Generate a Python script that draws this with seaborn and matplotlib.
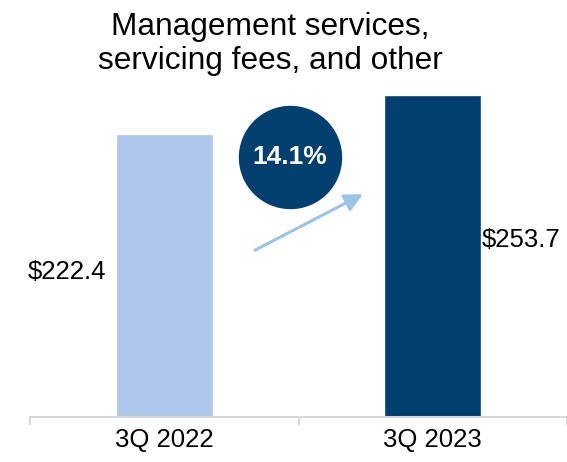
import matplotlib
matplotlib.use("Agg")
import matplotlib.pyplot as plt
import seaborn as sns
import pandas as pd

# data
quarters = ["3Q 2022", "3Q 2023"]
values = [222.4, 253.7]
value_labels = ["$222.4", "$253.7"]
growth_label = "14.1%"
title = "Management services,\nservicing fees, and other"

bar_colors = ["#adc6e9", "#003f6e"]
arrow_color = "#9dc3e6"
axis_grey = "#d9d9d9"

sns.set_theme(style="white")
plt.rcParams['font.family'] = ['Liberation Sans', 'DejaVu Sans']
plt.rcParams['text.color'] = 'black'

df = pd.DataFrame({"quarter": quarters, "value": values})

fig = plt.figure(figsize=(5.67, 4.62), dpi=100)
ax = fig.add_axes([30 / 567, 45 / 462, 537 / 567, 363.5 / 462])

sns.barplot(data=df, x="quarter", y="value", hue="quarter",
            palette=bar_colors, width=0.36, legend=False, ax=ax,
            saturation=1)

ax.set_xlim(-0.5, 1.478)
ax.set_ylim(0, 286)
ax.set_xlabel("")
ax.set_ylabel("")
ax.set_yticks([])

for s in ["top", "right", "left"]:
    ax.spines[s].set_visible(False)
ax.spines["bottom"].set_color(axis_grey)
ax.spines["bottom"].set_linewidth(1.5)

ax.tick_params(axis="x", which="major", length=0, pad=8, labelsize=18.5,
               labelcolor="black")
ax.set_xticks([-0.5, 0.5, 1.5], minor=True)
ax.tick_params(axis="x", which="minor", length=6, width=1.5, color=axis_grey,
               direction="out", bottom=True)

# value labels beside the bars
label_y = [114, 139]
ax.text(0 - 0.18 - 0.037, label_y[0], value_labels[0], ha="right",
        va="center", fontsize=18.5)
ax.text(1 + 0.18 + 0.003, label_y[1], value_labels[1], ha="left",
        va="center", fontsize=18.5)

# growth bubble and arrow
ax.scatter([0.484], [0.715], s=5390, color=bar_colors[1],
           transform=ax.transAxes, clip_on=False, zorder=3)
ax.text(0.484, 0.715, growth_label, transform=ax.transAxes, ha="center",
        va="center", color="white", fontsize=19, fontweight="bold", zorder=4)
ax.annotate("", xy=(0.620, 0.613), xytext=(0.419, 0.459),
            xycoords="axes fraction", textcoords="axes fraction",
            arrowprops=dict(arrowstyle="-|>,head_length=0.9,head_width=0.45",
                            color=arrow_color, lw=2.2, shrinkA=0, shrinkB=0))

fig.text(0.476, 0.905, title, ha="center", va="center", fontsize=22.8,
         linespacing=1.2)

fig.savefig("out.png", dpi=100)
